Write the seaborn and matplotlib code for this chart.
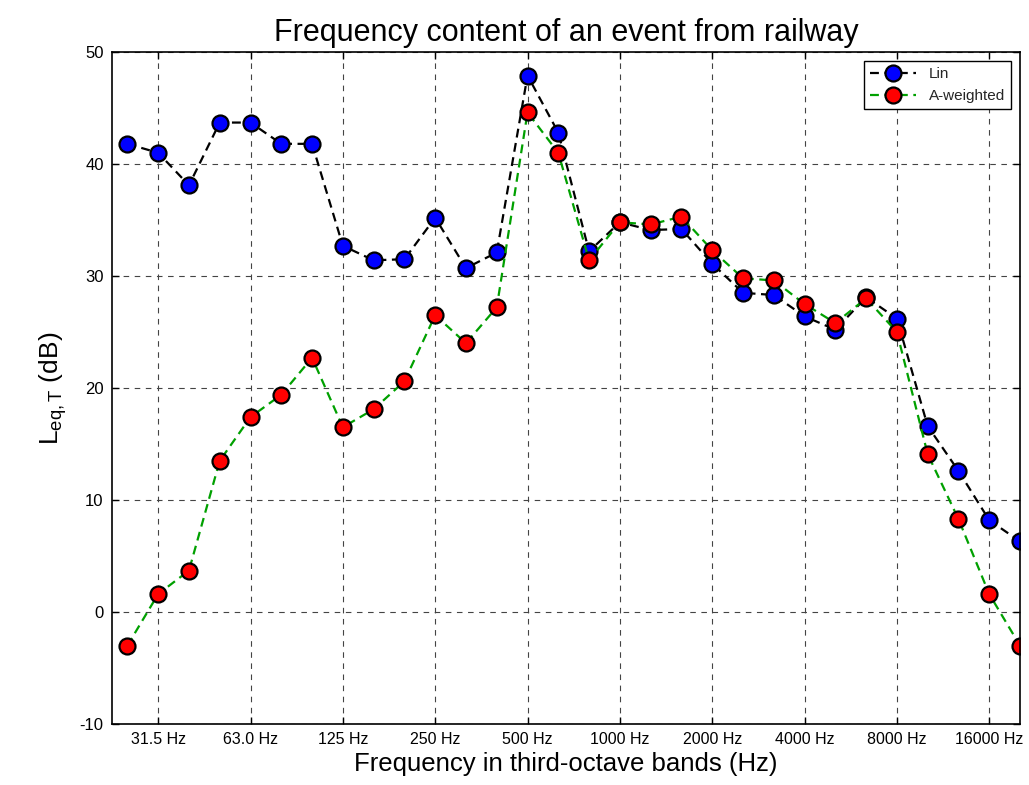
import matplotlib
matplotlib.use("Agg")
import matplotlib.pyplot as plt
import seaborn as sns
import numpy as np
import pandas as pd

# Third-octave band centres (Hz)
bands = [25, 31.5, 40, 50, 63, 80, 100, 125, 160, 200, 250, 315, 400, 500, 630,
         800, 1000, 1250, 1600, 2000, 2500, 3150, 4000, 5000, 6300, 8000,
         10000, 12500, 16000, 20000]
lin = [41.8, 41.0, 38.1, 43.7, 43.7, 41.8, 41.8, 32.7, 31.4, 31.5, 35.2, 30.7,
       32.1, 47.9, 42.8, 32.2, 34.8, 34.1, 34.2, 31.1, 28.5, 28.3, 26.4, 25.2,
       28.1, 26.2, 16.6, 12.6, 8.2, 6.3]
aweighted = [-3.0, 1.6, 3.7, 13.5, 17.4, 19.4, 22.7, 16.5, 18.1, 20.6, 26.5, 24.0,
             27.2, 44.6, 41.0, 31.4, 34.8, 34.6, 35.3, 32.3, 29.8, 29.6, 27.5, 25.8,
             28.0, 25.0, 14.1, 8.3, 1.6, -3.0]
tick_labels = ["31.5 Hz", "63.0 Hz", "125 Hz", "250 Hz", "500 Hz", "1000 Hz",
               "2000 Hz", "4000 Hz", "8000 Hz", "16000 Hz"]
tick_bands = [31.5, 63, 125, 250, 500, 1000, 2000, 4000, 8000, 16000]

sns.set_style("white")
plt.rcParams['font.family'] = ['Liberation Sans', 'DejaVu Sans']
plt.rcParams['mathtext.fontset'] = 'custom'
plt.rcParams['mathtext.rm'] = 'Liberation Sans'
plt.rcParams['mathtext.it'] = 'Liberation Sans'
plt.rcParams['axes.unicode_minus'] = False

idx = np.arange(len(bands))
df = pd.DataFrame({"idx": np.concatenate([idx, idx]),
                   "val": lin + aweighted,
                   "series": ["Lin"] * len(bands) + ["A-weighted"] * len(bands)})

fig = plt.figure(figsize=(10.29, 7.85), dpi=100)
ax = fig.add_axes([112 / 1029, 61 / 785, 908 / 1029, 672 / 785])

styles = {"Lin": ("black", "blue"), "A-weighted": ("#00a000", "red")}
for name in ["Lin", "A-weighted"]:
    lc, fc = styles[name]
    sub = df[df.series == name]
    sns.lineplot(data=sub, x="idx", y="val", ax=ax, color=lc, label=name,
                 linestyle=(0, (4, 2.5)), linewidth=1.6, marker="o",
                 markersize=11.5, markerfacecolor=fc, markeredgecolor="black",
                 markeredgewidth=1.6)

ax.set_xlim(-0.5, len(bands) - 1)
ax.set_ylim(-10, 50)
ax.set_yticks(np.arange(-10, 51, 10))
ax.set_xticks([bands.index(b) for b in tick_bands])
ax.set_xticklabels(tick_labels, fontsize=11.5)
ax.tick_params(axis='y', labelsize=12)
ax.tick_params(direction='in', length=5, width=1, top=True, right=True,
               bottom=True, left=True, color='black', labelcolor='black', pad=6)
ax.grid(True, linestyle=(0, (5, 5)), color='#444444', linewidth=0.8)
for s in ax.spines.values():
    s.set_color('black')
    s.set_linewidth(1.2)
    s.set_visible(True)

ax.set_title("Frequency content of an event from railway", fontsize=22,
             color='black', pad=8)
ax.set_xlabel("Frequency in third-octave bands (Hz)", fontsize=18.5,
              color='black', labelpad=3)
ax.set_ylabel(r"L$_{\mathrm{eq,T}}$ (dB)", fontsize=19, color='black',
              labelpad=8)

leg = ax.legend(loc='upper right', fontsize=11, frameon=True, fancybox=False,
                edgecolor='black', framealpha=1, borderaxespad=0.6,
                handlelength=3.0, labelspacing=0.5)
leg.get_frame().set_linewidth(1.0)

fig.savefig("out.png", dpi=100)
